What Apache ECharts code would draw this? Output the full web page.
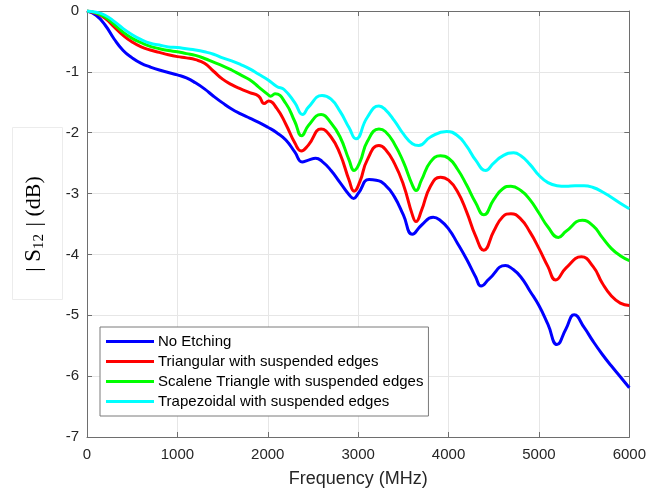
<!DOCTYPE html>
<html>
<head>
<meta charset="utf-8">
<script src="https://cdn.jsdelivr.net/npm/echarts@6/dist/echarts.min.js"></script>
<style>
  html, body { margin: 0; padding: 0; background: #fff; }
  #chart { width: 649px; height: 493px; }
</style>
</head>
<body>
<div id="chart"></div>
<script>
// Insertion loss |S12| (dB) versus frequency (MHz) for four etching patterns

const seriesNames = [
  'No Etching',
  'Triangular with suspended edges',
  'Scalene Triangle with suspended edges',
  'Trapezoidal with suspended edges'
];

const xTicks = [0, 1000, 2000, 3000, 4000, 5000, 6000];
const yTicks = [0, -1, -2, -3, -4, -5, -6, -7];

// No Etching
const noEtchFreq = [0,100,200,300,400,500,600,700,800,900,1000,1100,1200,1300,1400,1500,1600,1700,1800,1900,2000,2100,2200,2300,2380,2450,2530,2600,2700,2800,2900,2950,3000,3120,3200,3300,3400,3500,3600,3700,3830,3900,4000,4100,4200,4300,4360,4450,4630,4700,4800,4900,5000,5100,5200,5300,5390,5500,5600,5700,5800,5900,6000];
const noEtchDb = [0,-0.07,-0.23,-0.46,-0.65,-0.77,-0.86,-0.92,-0.97,-1.01,-1.05,-1.10,-1.18,-1.28,-1.40,-1.51,-1.61,-1.69,-1.76,-1.83,-1.91,-2.00,-2.12,-2.32,-2.48,-2.45,-2.42,-2.47,-2.62,-2.82,-3.02,-3.08,-3.00,-2.77,-2.78,-2.86,-3.05,-3.35,-3.67,-3.52,-3.39,-3.43,-3.58,-3.82,-4.08,-4.37,-4.52,-4.40,-4.18,-4.23,-4.37,-4.60,-4.84,-5.15,-5.48,-5.22,-4.99,-5.20,-5.43,-5.64,-5.83,-6.01,-6.19];

// Triangular with suspended edges
const triFreq = [0,100,200,300,400,500,600,700,800,900,1000,1100,1200,1300,1400,1500,1600,1700,1800,1900,1960,2010,2100,2200,2300,2370,2450,2590,2700,2800,2900,2955,3020,3100,3230,3300,3400,3500,3600,3640,3700,3800,3910,4000,4100,4200,4300,4390,4500,4600,4690,4800,4900,5000,5100,5185,5300,5470,5600,5700,5800,5900,6000];
const triDb = [0,-0.04,-0.12,-0.26,-0.40,-0.51,-0.59,-0.64,-0.68,-0.72,-0.75,-0.77,-0.80,-0.86,-0.99,-1.12,-1.21,-1.28,-1.34,-1.40,-1.52,-1.48,-1.60,-1.86,-2.17,-2.30,-2.20,-1.94,-2.07,-2.35,-2.78,-2.96,-2.80,-2.45,-2.21,-2.27,-2.50,-2.85,-3.35,-3.46,-3.28,-2.88,-2.73,-2.78,-2.97,-3.30,-3.70,-3.93,-3.62,-3.38,-3.33,-3.42,-3.63,-3.90,-4.20,-4.42,-4.22,-4.04,-4.20,-4.47,-4.68,-4.80,-4.84];

// Scalene Triangle with suspended edges
const scaFreq = [0,100,200,300,400,500,600,700,800,900,1000,1100,1200,1300,1400,1500,1600,1700,1800,1900,2000,2030,2080,2200,2300,2375,2450,2590,2700,2800,2900,2955,3020,3100,3230,3300,3400,3500,3600,3640,3700,3800,3910,4000,4100,4200,4300,4390,4500,4600,4690,4800,4900,5000,5100,5215,5300,5480,5600,5700,5800,5900,6000];
const scaDb = [0,-0.03,-0.10,-0.22,-0.35,-0.45,-0.52,-0.58,-0.62,-0.65,-0.67,-0.70,-0.73,-0.78,-0.84,-0.90,-0.97,-1.05,-1.13,-1.25,-1.37,-1.40,-1.36,-1.52,-1.82,-2.05,-1.88,-1.70,-1.84,-2.07,-2.45,-2.62,-2.48,-2.15,-1.94,-1.98,-2.18,-2.48,-2.86,-2.95,-2.78,-2.48,-2.38,-2.42,-2.60,-2.86,-3.15,-3.35,-3.10,-2.92,-2.88,-2.95,-3.10,-3.32,-3.55,-3.72,-3.62,-3.44,-3.53,-3.72,-3.90,-4.02,-4.10];

// Trapezoidal with suspended edges
const trapFreq = [0,100,200,300,400,500,600,700,800,900,1000,1100,1200,1300,1400,1500,1600,1700,1800,1900,2000,2100,2180,2300,2385,2450,2600,2700,2800,2900,2975,3100,3230,3300,3400,3500,3600,3670,3800,3980,4100,4200,4300,4410,4500,4600,4720,4800,4900,5000,5100,5200,5300,5400,5500,5600,5700,5800,5900,6000];
const trapDb = [0,-0.02,-0.07,-0.17,-0.29,-0.39,-0.47,-0.53,-0.56,-0.59,-0.60,-0.62,-0.64,-0.67,-0.71,-0.77,-0.82,-0.88,-0.95,-1.04,-1.13,-1.24,-1.29,-1.51,-1.70,-1.58,-1.39,-1.45,-1.65,-1.92,-2.10,-1.75,-1.56,-1.62,-1.80,-2.02,-2.18,-2.21,-2.07,-1.98,-2.05,-2.22,-2.45,-2.62,-2.50,-2.38,-2.33,-2.38,-2.52,-2.70,-2.82,-2.87,-2.88,-2.87,-2.87,-2.90,-2.97,-3.06,-3.16,-3.25];

const seriesColors = ['#0000ff', '#ff0000', '#00ff00', '#00ffff'];

function pairs(xs, ys) {
  return xs.map((x, i) => [x, ys[i]]);
}

const curves = [
  pairs(noEtchFreq, noEtchDb),
  pairs(triFreq, triDb),
  pairs(scaFreq, scaDb),
  pairs(trapFreq, trapDb)
];

const axisGray = '#6e6e6e';
const labelColor = '#262626';
const gridGray = '#e6e6e6';
const sansFont = 'Liberation Sans, Arial, sans-serif';
const serifFont = 'Liberation Serif, Times New Roman, serif';

const chart = echarts.init(document.getElementById('chart'), null, { renderer: 'canvas' });

chart.setOption({
  animation: false,
  backgroundColor: '#ffffff',
  grid: { left: 87, right: 17, top: 11, bottom: 53, containLabel: false },
  legend: {
    orient: 'vertical',
    left: 100,
    top: 327,
    data: seriesNames,
    icon: 'rect',
    itemWidth: 48,
    itemHeight: 3,
    itemGap: 3,
    padding: [6, 5, 6, 6],
    backgroundColor: '#ffffff',
    borderColor: '#7a7a7a',
    borderWidth: 1,
    borderRadius: 0,
    textStyle: { fontFamily: sansFont, fontSize: 15, color: '#000', lineHeight: 17, padding: [0, 0, 0, -1] }
  },
  xAxis: [
    {
      type: 'value',
      min: xTicks[0],
      max: xTicks[xTicks.length - 1],
      interval: 1000,
      name: 'Frequency (MHz)',
      nameLocation: 'middle',
      nameGap: 33,
      nameTextStyle: { fontFamily: sansFont, fontSize: 18, color: labelColor },
      axisLine: { show: true, onZero: false, lineStyle: { color: axisGray, width: 1 } },
      axisTick: { show: true, inside: true, length: 5, lineStyle: { color: axisGray } },
      axisLabel: { fontFamily: sansFont, fontSize: 15, color: labelColor, margin: 10, formatter: v => String(v) },
      splitLine: { show: true, lineStyle: { color: gridGray, width: 1 } }
    },
    {
      type: 'value',
      position: 'top',
      min: xTicks[0],
      max: xTicks[xTicks.length - 1],
      interval: 1000,
      axisLine: { show: true, onZero: false, lineStyle: { color: axisGray, width: 1 } },
      axisTick: { show: true, inside: true, length: 5, lineStyle: { color: axisGray } },
      axisLabel: { show: false },
      splitLine: { show: false }
    }
  ],
  yAxis: [
    {
      type: 'value',
      min: yTicks[yTicks.length - 1],
      max: yTicks[0],
      interval: 1,
      name: '{bar|| }{s|S}{sub|12}{bar| | (dB)}',
      nameLocation: 'middle',
      nameRotate: 90,
      nameGap: 40,
      nameTextStyle: {
        rich: {
          bar: { fontFamily: serifFont, fontSize: 22, color: '#000', lineHeight: 26, verticalAlign: 'middle' },
          s: { fontFamily: serifFont, fontSize: 23, color: '#000', lineHeight: 26, verticalAlign: 'middle' },
          sub: { fontFamily: serifFont, fontSize: 15, color: '#000', lineHeight: 26, verticalAlign: 'bottom', padding: [0, 2, 0, 0] }
        }
      },
      axisLine: { show: true, onZero: false, lineStyle: { color: axisGray, width: 1 } },
      axisTick: { show: true, inside: true, length: 5, lineStyle: { color: axisGray } },
      axisLabel: { fontFamily: sansFont, fontSize: 15, color: labelColor, margin: 8 },
      splitLine: { show: true, lineStyle: { color: gridGray, width: 1 } }
    },
    {
      type: 'value',
      position: 'right',
      min: yTicks[yTicks.length - 1],
      max: yTicks[0],
      interval: 1,
      axisLine: { show: true, onZero: false, lineStyle: { color: axisGray, width: 1 } },
      axisTick: { show: true, inside: true, length: 5, lineStyle: { color: axisGray } },
      axisLabel: { show: false },
      splitLine: { show: false }
    }
  ],
  graphic: [
    {
      type: 'rect',
      left: 10,
      top: 125,
      shape: { width: 50, height: 172 },
      style: { fill: 'none', stroke: '#ececec', lineWidth: 1 },
      silent: true,
      z: -1
    }
  ],
  series: seriesNames.map((name, i) => ({
    name: name,
    type: 'line',
    xAxisIndex: 0,
    yAxisIndex: 0,
    data: curves[i],
    smooth: 0.5,
    showSymbol: false,
    symbol: 'none',
    color: seriesColors[i],
    lineStyle: { color: seriesColors[i], width: 3 },
    z: 3 + i
  }))
});
</script>
</body>
</html>
